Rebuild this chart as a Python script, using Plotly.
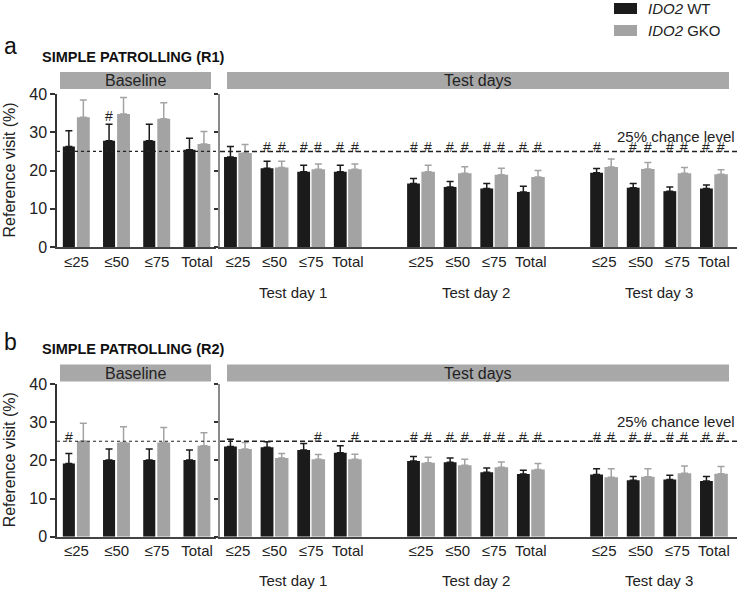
import plotly.graph_objects as go

W, H = 738, 595
FONT = "Liberation Sans, Arial, sans-serif"
TXT = "#222222"
WT_COLOR = "#1b1b1b"
GKO_COLOR = "#a3a3a3"
HEAD_COLOR = "#a8a8a8"

categories = ["≤25", "≤50", "≤75", "Total"]
test_days = ["Test day 1", "Test day 2", "Test day 3"]
groups = ["<i>IDO2</i> WT", "<i>IDO2</i> GKO"]
chance = 25

# panel a: SIMPLE PATROLLING (R1)
a_base_wt = [26.3, 27.8, 27.8, 25.4]
a_base_wt_sem = [4.1, 4.3, 4.3, 3.0]
a_base_gko = [33.9, 34.8, 33.5, 26.9]
a_base_gko_sem = [4.5, 4.3, 4.2, 3.3]
a_test_wt = [23.5, 20.6, 19.7, 19.7, 16.6, 15.7, 15.3, 14.4, 19.4, 15.5, 14.6, 15.3]
a_test_wt_sem = [2.8, 1.8, 1.7, 1.7, 1.3, 1.4, 1.3, 1.5, 1.1, 1.1, 1.1, 0.9]
a_test_gko = [24.6, 20.8, 20.3, 20.3, 19.7, 19.3, 18.9, 18.3, 20.9, 20.4, 19.3, 19.0]
a_test_gko_sem = [2.2, 1.6, 1.4, 1.4, 1.7, 1.7, 1.7, 1.7, 2.1, 1.7, 1.5, 1.2]
# "#" markers (1 = significant vs chance)
a_base_wt_hash = [0, 1, 0, 0]
a_base_gko_hash = [0, 0, 0, 0]
a_test_wt_hash = [0, 1, 1, 1, 1, 1, 1, 1, 1, 1, 1, 1]
a_test_gko_hash = [0, 1, 1, 1, 1, 1, 1, 1, 0, 1, 1, 1]

# panel b: SIMPLE PATROLLING (R2)
b_base_wt = [19.2, 20.1, 20.1, 20.1]
b_base_wt_sem = [2.6, 2.9, 2.9, 2.6]
b_base_gko = [25.1, 24.7, 24.7, 23.8]
b_base_gko_sem = [4.6, 4.1, 3.9, 3.4]
b_test_wt = [23.6, 23.4, 22.7, 22.0, 19.8, 19.5, 16.9, 16.4, 16.3, 14.8, 15.0, 14.6]
b_test_wt_sem = [1.9, 1.5, 1.7, 1.8, 1.2, 1.1, 1.1, 1.0, 1.5, 1.0, 1.1, 1.2]
b_test_gko = [23.0, 20.6, 20.3, 20.3, 19.4, 18.7, 18.2, 17.6, 15.6, 15.7, 16.6, 16.5]
b_test_gko_sem = [1.7, 1.2, 1.2, 1.3, 1.4, 1.6, 1.4, 1.6, 2.2, 2.1, 1.9, 1.9]
b_base_wt_hash = [1, 0, 0, 0]
b_base_gko_hash = [0, 0, 0, 0]
b_test_wt_hash = [0, 0, 0, 0, 1, 1, 1, 1, 1, 1, 1, 1]
b_test_gko_hash = [0, 0, 1, 1, 1, 1, 1, 1, 1, 1, 1, 1]

base_x = list(range(len(categories)))
test_x = [5 * d + k for d in range(len(test_days)) for k in range(len(categories))]
test_ticktext = categories * len(test_days)


def px(x):
    return x / W


def py(y):
    return 1 - y / H


fig = go.Figure()


def label(x, y, text, size, xref="paper", yref="paper", xanchor="center",
          yanchor="middle", color=TXT, **kw):
    fig.add_annotation(x=x, y=y, xref=xref, yref=yref, text=text, showarrow=False,
                       xanchor=xanchor, yanchor=yanchor,
                       font=dict(family=FONT, size=size, color=color), **kw)


def add_bars(x, wt, wt_sem, gko, gko_sem, xa, ya, offs, widths):
    for vals, sem, color, name, off, wd in [
        (wt, wt_sem, WT_COLOR, groups[0], offs[0], widths[0]),
        (gko, gko_sem, GKO_COLOR, groups[1], offs[1], widths[1]),
    ]:
        fig.add_trace(go.Bar(
            x=x, y=vals, xaxis=xa, yaxis=ya,
            offset=off, width=wd,
            marker=dict(color=color, line=dict(width=0)),
            error_y=dict(type="data", symmetric=False, array=sem,
                         arrayminus=[0] * len(sem), color=color,
                         thickness=1.5, width=3.5),
            name=name, showlegend=False,
        ))


def add_hashes(x, vals, sem, flags, xa, ya, center):
    for xi, v, s, f in zip(x, vals, sem, flags):
        if not f:
            continue
        top = max(v + s + 1.2, chance)
        label(xi + center, top, "#", 14, xref=xa, yref=ya, yanchor="bottom", yshift=-6)


panels = [
    dict(ax=("x", "y", "x2", "y2"), ytop=94, ybot=247, head=(72, 89),
         letter="a", letter_y=46, title="SIMPLE PATROLLING (R1)", title_y=57,
         chance_y=137, day_y=292,
         base=(a_base_wt, a_base_wt_sem, a_base_gko, a_base_gko_sem, a_base_wt_hash, a_base_gko_hash),
         test=(a_test_wt, a_test_wt_sem, a_test_gko, a_test_gko_sem, a_test_wt_hash, a_test_gko_hash)),
    dict(ax=("x3", "y3", "x4", "y4"), ytop=384, ybot=536.7, head=(364.5, 381.5),
         letter="b", letter_y=342, title="SIMPLE PATROLLING (R2)", title_y=349,
         chance_y=421, day_y=580,
         base=(b_base_wt, b_base_wt_sem, b_base_gko, b_base_gko_sem, b_base_wt_hash, b_base_gko_hash),
         test=(b_test_wt, b_test_wt_sem, b_test_gko, b_test_gko_sem, b_test_wt_hash, b_test_gko_hash)),
]

base_dom = [px(57), px(216)]
test_dom = [px(220), px(737)]
base_offs, base_w = (-0.34, 0.01), (0.30, 0.32)
test_offs, test_w = (-0.38, 0.01), (0.35, 0.37)

layout_axes = {}
for i, p in enumerate(panels):
    bx, by, tx, ty = p["ax"]
    ydom = [py(p["ybot"]), py(p["ytop"])]
    wt, wts, gko, gkos, wth, gkh = p["base"]
    add_bars(base_x, wt, wts, gko, gkos, bx, by, base_offs, base_w)
    add_hashes(base_x, wt, wts, wth, bx, by, base_offs[0] + base_w[0] / 2)
    add_hashes(base_x, gko, gkos, gkh, bx, by, base_offs[1] + base_w[1] / 2)
    wt, wts, gko, gkos, wth, gkh = p["test"]
    add_bars(test_x, wt, wts, gko, gkos, tx, ty, test_offs, test_w)
    add_hashes(test_x, wt, wts, wth, tx, ty, test_offs[0] + test_w[0] / 2)
    add_hashes(test_x, gko, gkos, gkh, tx, ty, test_offs[1] + test_w[1] / 2)

    n = "" if i == 0 else str(2 * i + 1)
    n2 = str(2 * i + 2)
    xax = dict(showline=True, linecolor="#444444", linewidth=1.5, ticks="",
               showgrid=False, zeroline=False, fixedrange=True, automargin=False,
               tickfont=dict(family=FONT, size=15, color=TXT))
    layout_axes["xaxis" + n] = dict(xax, domain=base_dom, anchor=by, range=[-0.485, 3.47],
                                    tickvals=base_x, ticktext=categories)
    layout_axes["xaxis" + n2] = dict(xax, domain=test_dom, anchor=ty, range=[-0.49, 13.63],
                                     tickvals=test_x, ticktext=test_ticktext)
    layout_axes["yaxis" + n] = dict(domain=ydom, anchor=bx, range=[0, 40], dtick=10,
                                    showline=True, linecolor="#333333", linewidth=1.5,
                                    ticks="outside", ticklen=5, tickwidth=1.5, tickcolor="#333333",
                                    showgrid=False, zeroline=False, automargin=False,
                                    tickfont=dict(family=FONT, size=16, color=TXT))
    layout_axes["yaxis" + n2] = dict(domain=ydom, anchor=tx, range=[0, 40], dtick=10,
                                     showline=True, linecolor="#8a8a8a", linewidth=1.5,
                                     ticks="outside", ticklen=4, tickwidth=1.5, tickcolor="#333333",
                                     showticklabels=False, showgrid=False, zeroline=False,
                                     automargin=False)

    # chance level lines
    fig.add_shape(type="line", xref=bx + " domain", yref=by, x0=0, x1=1, y0=chance, y1=chance,
                  line=dict(color="#222222", width=1.2, dash="dot"), layer="above")
    fig.add_shape(type="line", xref=tx + " domain", yref=ty, x0=0, x1=1, y0=chance, y1=chance,
                  line=dict(color="#222222", width=1.5, dash="5px,3px"), layer="above")

    # header boxes
    h0, h1 = p["head"]
    for x0, x1, text in [(60, 211, "Baseline"), (227, 729, "Test days")]:
        fig.add_shape(type="rect", xref="paper", yref="paper", x0=px(x0), x1=px(x1),
                      y0=py(h1), y1=py(h0), fillcolor=HEAD_COLOR, line=dict(width=0))
        label(px((x0 + x1) / 2), py((h0 + h1) / 2), text, 16)

    label(px(10), py(p["letter_y"]), p["letter"], 23, color="#111111")
    label(px(40), py(p["title_y"]), "<b>" + p["title"] + "</b>", 14.5,
          xanchor="left", color="#111111")
    label(px(737), py(p["chance_y"]), "25% chance level", 15, xanchor="right")
    label(px(9), (ydom[0] + ydom[1]) / 2, "Reference visit (%)", 16, textangle=-90)
    for d, text in enumerate(test_days):
        label(5 * d + 1.5, py(p["day_y"]), text, 15, xref=tx)

# legend (top right), drawn as swatches + labels
for k, (name, color) in enumerate(zip(groups, [WT_COLOR, GKO_COLOR])):
    yc = 8.5 + 22 * k
    fig.add_shape(type="rect", xref="paper", yref="paper", x0=px(614), x1=px(637),
                  y0=py(yc + 5.5), y1=py(yc - 5.5), fillcolor=color, line=dict(width=0))
    label(px(646), py(yc), name, 15, xanchor="left")

fig.update_layout(
    width=W, height=H,
    autosize=False,
    margin=dict(l=0, r=0, t=0, b=0, pad=0),
    paper_bgcolor="white", plot_bgcolor="white",
    barmode="overlay",
    font=dict(family=FONT, color=TXT),
    showlegend=False,
    **layout_axes,
)

# drop the default 8px page margin so the figure sits at the window corner
fig.write_html("out.html", config={"displayModeBar": False},
               post_script="document.body.style.margin='0';")
